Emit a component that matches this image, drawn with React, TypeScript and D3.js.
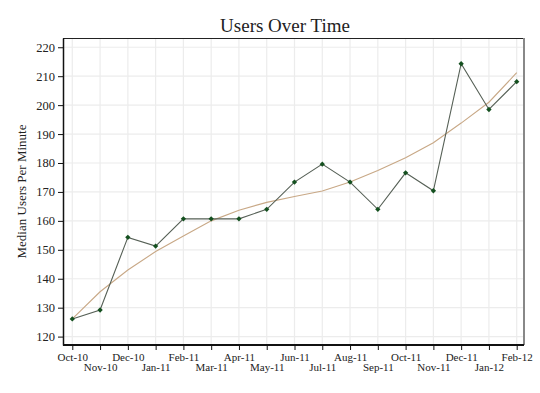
import React, { useRef, useEffect } from 'react';
import * as d3 from 'd3';

const MONTHS = ['Oct-10', 'Nov-10', 'Dec-10', 'Jan-11', 'Feb-11', 'Mar-11', 'Apr-11', 'May-11', 'Jun-11',
  'Jul-11', 'Aug-11', 'Sep-11', 'Oct-11', 'Nov-11', 'Dec-11', 'Jan-12', 'Feb-12'];
const USERS = [126.1, 129.2, 154.3, 151.3, 160.7, 160.7, 160.7, 164.0, 173.4, 179.6, 173.4, 164.0, 176.6, 170.4, 214.3, 198.5, 208.1];
const TREND = [126.1, 135.5, 143.0, 149.4, 154.8, 160.0, 163.7, 166.4, 168.4, 170.3, 173.4, 177.4, 181.8, 187.0, 193.8, 201.0, 211.2];
const Y_TICKS = [120, 130, 140, 150, 160, 170, 180, 190, 200, 210, 220];

const W = 540;
const H = 393;
const FONT = '"Liberation Serif", "DejaVu Serif", serif';

export default function App() {
  const svgRef = useRef<SVGSVGElement>(null);

  useEffect(() => {
    const svg = d3.select(svgRef.current);
    svg.selectAll('*').remove();

    const left = 63, right = 524, top = 38, bottom = 345;

    const x = d3.scalePoint<string>().domain(MONTHS).range([72.3, 516.7]);
    const y = d3.scaleLinear().domain([117.1, 223.2]).range([bottom, top]);

    // grid
    svg.append('g')
      .selectAll('line')
      .data(Y_TICKS)
      .join('line')
      .attr('x1', left).attr('x2', right)
      .attr('y1', d => y(d)).attr('y2', d => y(d))
      .attr('stroke', '#ececec').attr('stroke-width', 1.2);
    svg.append('g')
      .selectAll('line')
      .data(MONTHS)
      .join('line')
      .attr('x1', d => x(d)!).attr('x2', d => x(d)!)
      .attr('y1', top).attr('y2', bottom)
      .attr('stroke', '#ececec').attr('stroke-width', 1.2);

    // frame
    svg.append('line').attr('x1', left).attr('x2', right).attr('y1', top + 0.5).attr('y2', top + 0.5)
      .attr('stroke', '#222').attr('stroke-width', 1);
    svg.append('line').attr('x1', right).attr('x2', right).attr('y1', top).attr('y2', bottom)
      .attr('stroke', '#888').attr('stroke-width', 2);

    // y axis
    svg.append('g')
      .attr('transform', `translate(${left},0)`)
      .call(d3.axisLeft(y).tickValues(Y_TICKS).tickSize(5).tickSizeOuter(0).tickPadding(3))
      .call(g => g.select('.domain').attr('stroke', '#111').attr('stroke-width', 1.5))
      .call(g => g.selectAll('.tick line').attr('stroke', '#111'))
      .call(g => g.selectAll('.tick text')
        .attr('font-size', 12.5)
        .attr('font-family', FONT)
        .attr('fill', '#222'));

    // x axis
    svg.append('g')
      .attr('transform', `translate(0,${bottom})`)
      .call(d3.axisBottom(x).tickSize(5).tickSizeOuter(0).tickPadding(3))
      .call(g => g.select('.domain').attr('stroke', '#111').attr('stroke-width', 2)
        .attr('d', `M${left},0H${right}`))
      .call(g => g.selectAll('.tick line').attr('stroke', '#111'))
      .call(g => g.selectAll<SVGTextElement, string>('.tick text')
        .attr('font-size', 11)
        .attr('font-family', FONT)
        .attr('fill', '#222')
        .attr('dy', (d, i) => (i % 2 === 0 ? '0.71em' : '1.65em')));

    // trend line
    svg.append('path')
      .datum(TREND)
      .attr('fill', 'none')
      .attr('stroke', '#c8a886')
      .attr('stroke-width', 1.1)
      .attr('d', d3.line<number>().x((d, i) => x(MONTHS[i])!).y(d => y(d)));

    // data line
    svg.append('path')
      .datum(USERS)
      .attr('fill', 'none')
      .attr('stroke', '#566056')
      .attr('stroke-width', 1.1)
      .attr('d', d3.line<number>().x((d, i) => x(MONTHS[i])!).y(d => y(d)));

    // markers
    svg.append('g')
      .selectAll('path')
      .data(USERS)
      .join('path')
      .attr('transform', (d, i) => `translate(${x(MONTHS[i])},${y(d)})`)
      .attr('d', d3.symbol(d3.symbolDiamond2, 18)())
      .attr('fill', '#14501f');

    // title
    svg.append('text')
      .attr('x', 285).attr('y', 32)
      .attr('text-anchor', 'middle')
      .attr('font-size', 19)
      .attr('font-family', FONT)
      .attr('fill', '#222')
      .text('Users Over Time');

    // y label
    svg.append('text')
      .attr('transform', `translate(26,${(top + bottom) / 2}) rotate(-90)`)
      .attr('text-anchor', 'middle')
      .attr('font-size', 13)
      .attr('font-family', FONT)
      .attr('fill', '#222')
      .text('Median Users Per Minute');
  }, []);

  return (
    <svg
      ref={svgRef}
      width={W}
      height={H}
      style={{ position: 'absolute', left: 0, top: 0, background: '#fff' }}
    />
  );
}
